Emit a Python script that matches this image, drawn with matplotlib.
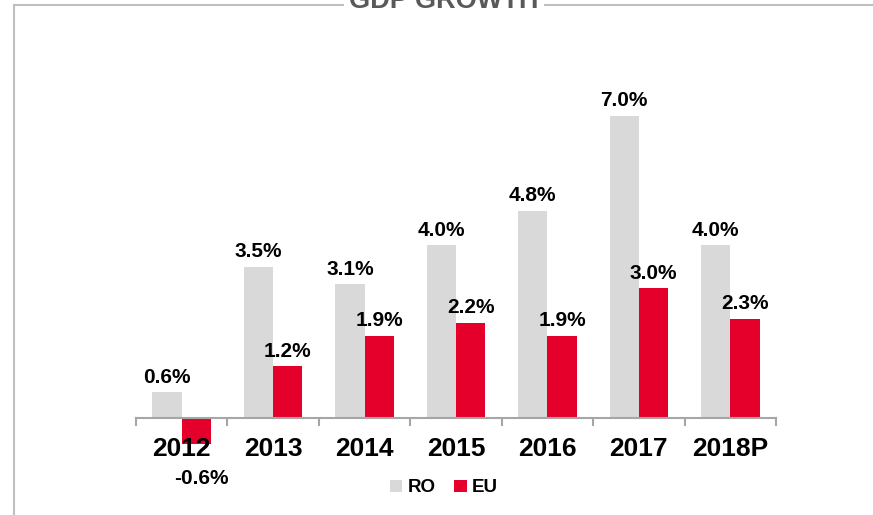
import matplotlib.pyplot as plt
from matplotlib.lines import Line2D

# ---- Data ----
years = ["2012", "2013", "2014", "2015", "2016", "2017", "2018P"]
ro = [0.6, 3.5, 3.1, 4.0, 4.8, 7.0, 4.0]
eu = [-0.6, 1.2, 1.9, 2.2, 1.9, 3.0, 2.3]

GRAY = "#D9D9D9"
RED = "#E4002B"
W, H = 873, 515

plt.rcParams["font.family"] = ["Liberation Sans", "DejaVu Sans"]
fig = plt.figure(figsize=(W / 100, H / 100), dpi=100)

# axes placed in pixel coordinates: x 136..776, zero line at y=418
ymin, ymax = -1.0, 8.0
ppu = 43.2
bottom_px = 418 + (0 - ymin) * ppu
top_px = 418 - ymax * ppu
ax = fig.add_axes([136 / W, 1 - bottom_px / H, 640 / W, (bottom_px - top_px) / H])
ax.set_xlim(-0.5, len(years) - 0.5)
ax.set_ylim(ymin, ymax)

x = list(range(len(years)))
bw = 0.32
b1 = ax.bar([i - bw / 2 for i in x], ro, width=bw, color=GRAY, label="RO")
b2 = ax.bar([i + bw / 2 for i in x], eu, width=bw, color=RED, label="EU")

# value labels
for bars, vals in ((b1, ro), (b2, eu)):
    for rect, v in zip(bars, vals):
        cx = rect.get_x() + rect.get_width() / 2
        if v >= 0:
            ax.annotate(f"{v:.1f}%", (cx, v), xytext=(0, 4), textcoords="offset points",
                        ha="center", va="bottom", fontsize=15, fontweight="bold")
        else:
            ax.annotate(f"{v:.1f}%", (cx + 0.05, v), xytext=(0, -18), textcoords="offset points",
                        ha="center", va="top", fontsize=15, fontweight="bold")

# axis styling
for s in ("top", "right", "left"):
    ax.spines[s].set_visible(False)
ax.spines["bottom"].set_position(("data", 0))
ax.spines["bottom"].set_color("#A6A6A6")
ax.spines["bottom"].set_linewidth(1.5)
ax.set_yticks([])
ax.set_xticks(x)
ax.set_xticklabels(years, fontsize=19, fontweight="bold")
ax.tick_params(axis="x", which="major", length=0, pad=14)
ax.set_xticks([i - 0.5 for i in range(len(years) + 1)], minor=True)
ax.tick_params(axis="x", which="minor", length=6, width=1.5, color="#A6A6A6", direction="out")

# legend
fig.legend(handles=[b1, b2], labels=["RO", "EU"], loc="center",
           bbox_to_anchor=(444 / W, 1 - 488 / H), ncol=2, frameon=False,
           prop={"size": 13.5, "weight": "bold"}, handlelength=0.65, handleheight=0.65,
           handletextpad=0.3, columnspacing=1.0, borderpad=0)

# frame lines and title
fig.add_artist(Line2D([14 / W, 14 / W], [0, 1 - 5 / H], transform=fig.transFigure,
                      color="#BFBFBF", lw=1.5))
fig.add_artist(Line2D([14 / W, 1], [1 - 5 / H, 1 - 5 / H], transform=fig.transFigure,
                      color="#BFBFBF", lw=1.5))
fig.text(444 / W, 1 - 8 / H, "GDP GROWTH", ha="center", va="baseline",
         fontsize=19.5, fontweight="bold", color="#595959",
         bbox=dict(facecolor="white", edgecolor="none", pad=4))

fig.savefig("out.png", dpi=100)
